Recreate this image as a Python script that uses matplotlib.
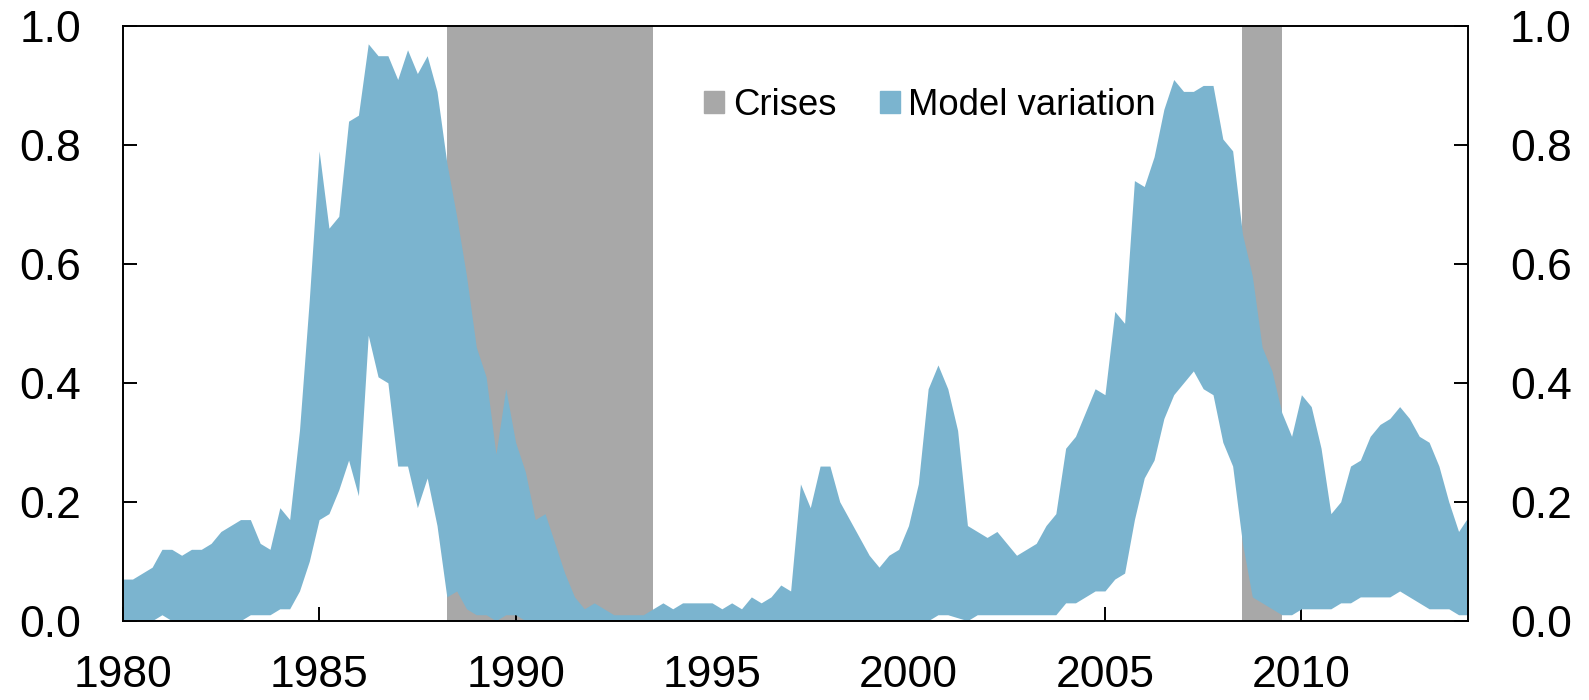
import numpy as np
import matplotlib
matplotlib.use('Agg')
import matplotlib.pyplot as plt
from matplotlib.patches import Patch

plt.rcParams['font.family'] = ['Liberation Sans', 'DejaVu Sans']

# Квартальные данные 1980Q1 - 2014Q2
start_year = 1980.0
step = 0.25

upper = [0.07, 0.07, 0.08, 0.09,   # 1980
         0.12, 0.12, 0.11, 0.12,   # 1981
         0.12, 0.13, 0.15, 0.16,   # 1982
         0.17, 0.17, 0.13, 0.12,   # 1983
         0.19, 0.17, 0.32, 0.54,   # 1984
         0.79, 0.66, 0.68, 0.84,   # 1985
         0.85, 0.97, 0.95, 0.95,   # 1986
         0.91, 0.96, 0.92, 0.95,   # 1987
         0.89, 0.77, 0.68, 0.58,   # 1988
         0.46, 0.41, 0.28, 0.39,   # 1989
         0.30, 0.25, 0.17, 0.18,   # 1990
         0.13, 0.08, 0.04, 0.02,   # 1991
         0.03, 0.02, 0.01, 0.01,   # 1992
         0.01, 0.01, 0.02, 0.03,   # 1993
         0.02, 0.03, 0.03, 0.03,   # 1994
         0.03, 0.02, 0.03, 0.02,   # 1995
         0.04, 0.03, 0.04, 0.06,   # 1996
         0.05, 0.23, 0.19, 0.26,   # 1997
         0.26, 0.20, 0.17, 0.14,   # 1998
         0.11, 0.09, 0.11, 0.12,   # 1999
         0.16, 0.23, 0.39, 0.43,   # 2000
         0.39, 0.32, 0.16, 0.15,   # 2001
         0.14, 0.15, 0.13, 0.11,   # 2002
         0.12, 0.13, 0.16, 0.18,   # 2003
         0.29, 0.31, 0.35, 0.39,   # 2004
         0.38, 0.52, 0.50, 0.74,   # 2005
         0.73, 0.78, 0.86, 0.91,   # 2006
         0.89, 0.89, 0.90, 0.90,   # 2007
         0.81, 0.79, 0.65, 0.58,   # 2008
         0.46, 0.42, 0.35, 0.31,   # 2009
         0.38, 0.36, 0.29, 0.18,   # 2010
         0.20, 0.26, 0.27, 0.31,   # 2011
         0.33, 0.34, 0.36, 0.34,   # 2012
         0.31, 0.30, 0.26, 0.20,   # 2013
         0.15, 0.175]              # 2014

lower = [0.00, 0.00, 0.00, 0.00,   # 1980
         0.01, 0.00, 0.00, 0.00,   # 1981
         0.00, 0.00, 0.00, 0.00,   # 1982
         0.00, 0.01, 0.01, 0.01,   # 1983
         0.02, 0.02, 0.05, 0.10,   # 1984
         0.17, 0.18, 0.22, 0.27,   # 1985
         0.21, 0.48, 0.41, 0.40,   # 1986
         0.26, 0.26, 0.19, 0.24,   # 1987
         0.16, 0.04, 0.05, 0.02,   # 1988
         0.01, 0.01, 0.00, 0.01,   # 1989
         0.01, 0.00, 0.00, 0.00,   # 1990
         0.00, 0.00, 0.00, 0.00,   # 1991
         0.00, 0.00, 0.00, 0.00,   # 1992
         0.00, 0.00, 0.00, 0.00,   # 1993
         0.00, 0.00, 0.00, 0.00,   # 1994
         0.00, 0.00, 0.00, 0.00,   # 1995
         0.00, 0.00, 0.00, 0.00,   # 1996
         0.00, 0.00, 0.00, 0.00,   # 1997
         0.00, 0.00, 0.00, 0.00,   # 1998
         0.00, 0.00, 0.00, 0.00,   # 1999
         0.00, 0.00, 0.00, 0.01,   # 2000
         0.01, 0.005, 0.00, 0.01,  # 2001
         0.01, 0.01, 0.01, 0.01,   # 2002
         0.01, 0.01, 0.01, 0.01,   # 2003
         0.03, 0.03, 0.04, 0.05,   # 2004
         0.05, 0.07, 0.08, 0.17,   # 2005
         0.24, 0.27, 0.34, 0.38,   # 2006
         0.40, 0.42, 0.39, 0.38,   # 2007
         0.30, 0.26, 0.13, 0.04,   # 2008
         0.03, 0.02, 0.01, 0.01,   # 2009
         0.02, 0.02, 0.02, 0.02,   # 2010
         0.03, 0.03, 0.04, 0.04,   # 2011
         0.04, 0.04, 0.05, 0.04,   # 2012
         0.03, 0.02, 0.02, 0.02,   # 2013
         0.01, 0.01]               # 2014

# Периоды кризисов (начало, конец)
crises = [(1988.25, 1993.5), (2008.5, 2009.5)]

x_ticks = [1980, 1985, 1990, 1995, 2000, 2005, 2010]
y_ticks = [0.0, 0.2, 0.4, 0.6, 0.8, 1.0]

blue = '#7bb4cf'
gray = '#a8a8a8'

x = start_year + step * np.arange(len(upper))

fig = plt.figure(figsize=(15.89, 7.0), dpi=100)
ax = fig.add_axes([0.0772, 0.1133, 0.8469, 0.8496])

for c0, c1 in crises:
    ax.axvspan(c0, c1, color=gray, lw=0, zorder=1)

ax.fill_between(x, lower, upper, color=blue, lw=0, zorder=2)

ax.set_xlim(1980, 2014.25)
ax.set_ylim(0, 1)
ax.set_xticks(x_ticks)
ax.set_yticks(y_ticks)
ax.set_yticklabels([f'{v:.1f}' for v in y_ticks])

ax.tick_params(axis='both', direction='in', length=10, width=1.4,
               labelsize=32)
ax.tick_params(axis='y', left=True, right=True, labelleft=True,
               labelright=True, pad=30)
ax.tick_params(axis='x', top=False, pad=25)

for s in ax.spines.values():
    s.set_linewidth(1.4)
    s.set_zorder(5)

handles = [Patch(color=gray, label='Crises'), Patch(color=blue, label='Model variation')]
ax.legend(handles=handles, loc='center', bbox_to_anchor=(0.6, 0.866), ncol=2,
          frameon=False, fontsize=26.3, handlelength=0.54, handleheight=0.54,
          handletextpad=0.23, columnspacing=1.2, borderaxespad=0)

fig.savefig('out.png', dpi=100)
